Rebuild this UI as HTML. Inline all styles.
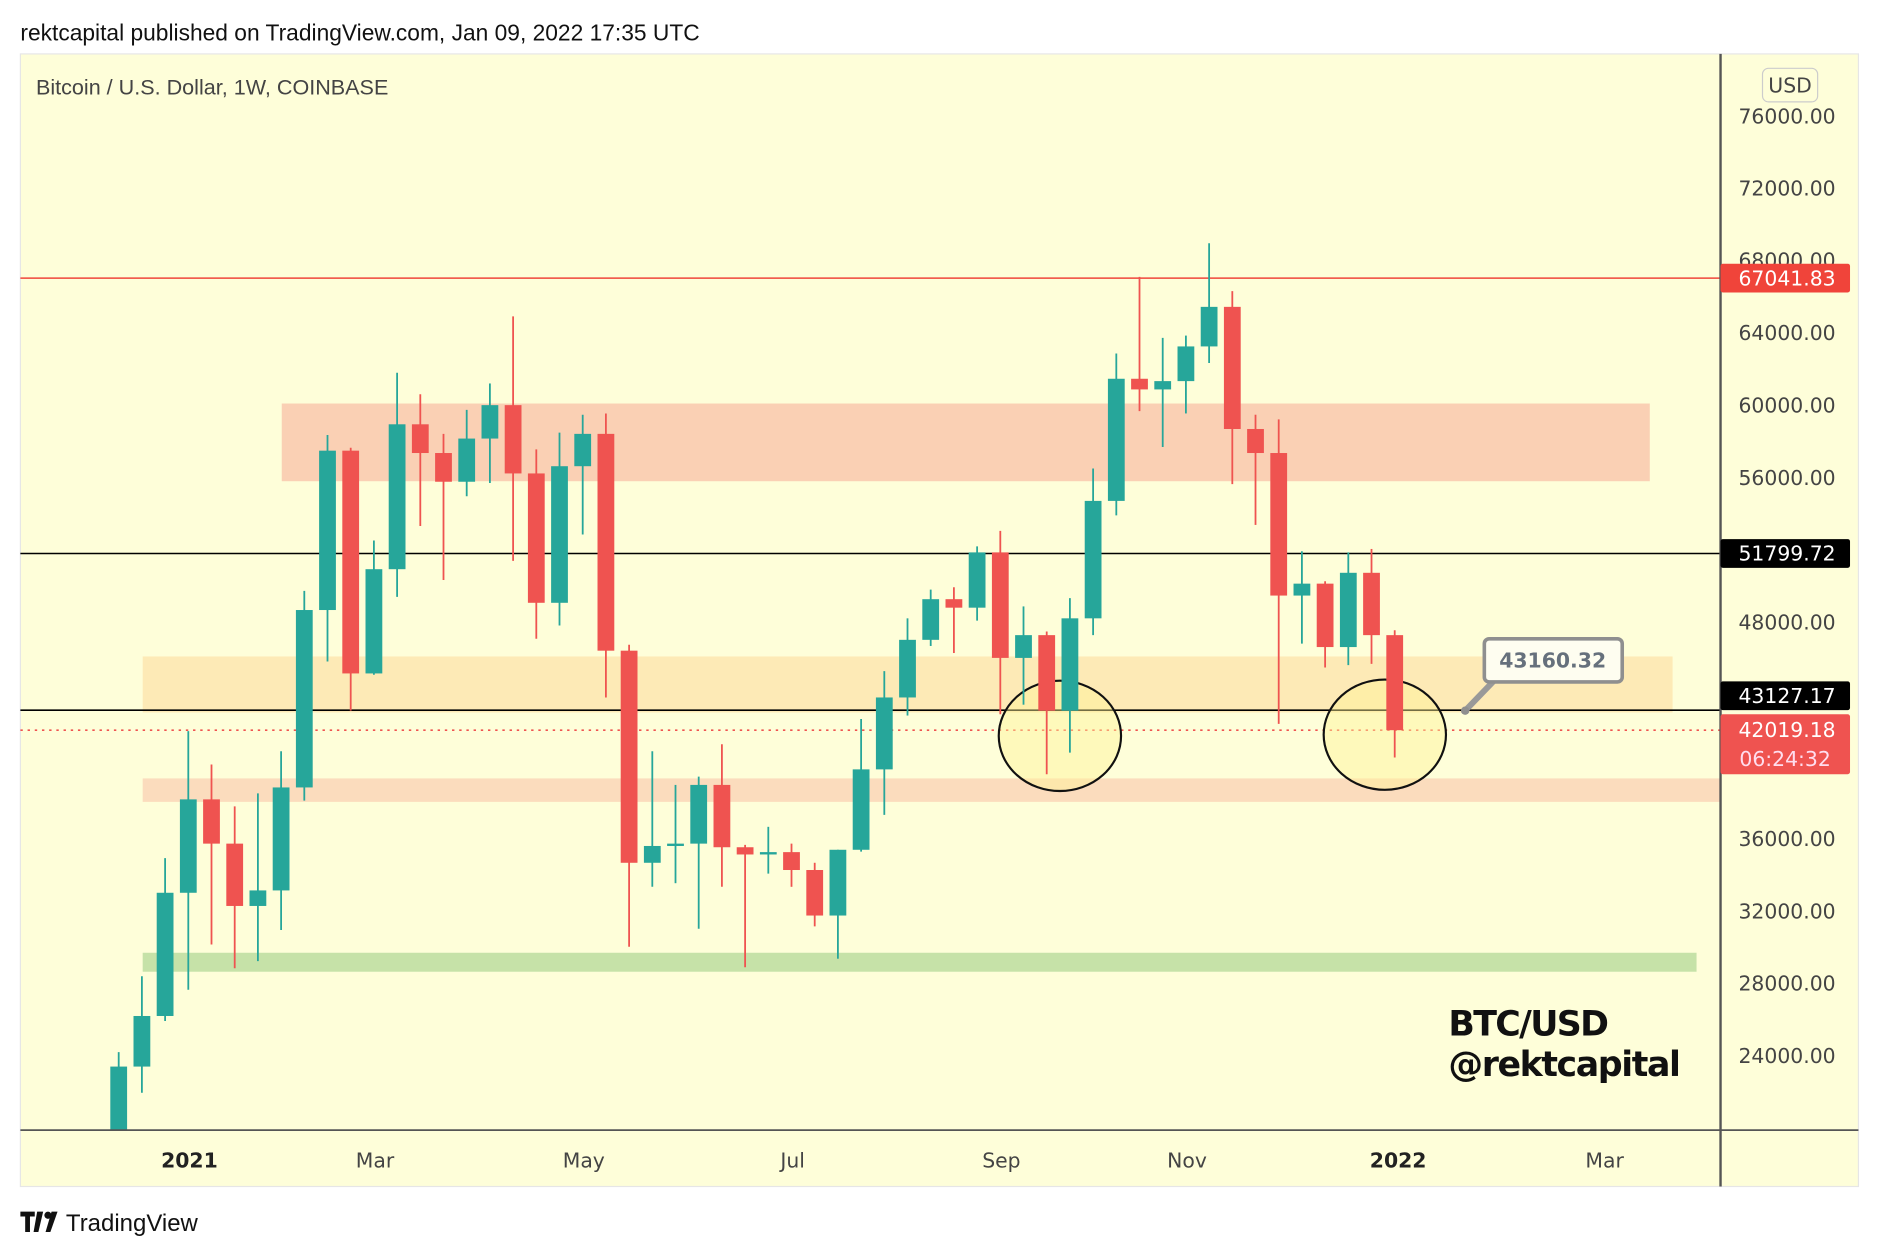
<!DOCTYPE html>
<html><head><meta charset="utf-8"><style>
html,body{margin:0;padding:0;background:#fff;}
svg{display:block;font-family:"DejaVu Sans","Liberation Sans",sans-serif;}
</style></head><body>
<svg id="chart" width="1880" height="1256" viewBox="0 0 1568 1048" preserveAspectRatio="none" xmlns="http://www.w3.org/2000/svg">
<text x="17" y="34" font-family="Liberation Sans, sans-serif" font-size="19" fill="#111">rektcapital published on TradingView.com, Jan 09, 2022 17:35 UTC</text>
<rect x="17" y="45" width="1533" height="945" fill="#fefed9" stroke="#e6e6e6"/>
<g id="zones"></g>
<g id="lines"></g>
<g id="annot"></g>
<g id="candles"></g>
<g id="callout"></g>
<line x1="17" y1="943" x2="1550" y2="943" stroke="#555" stroke-width="1.5"/>
<line x1="1435" y1="45" x2="1435" y2="990" stroke="#555" stroke-width="2"/>
<text x="30" y="79" font-size="18" fill="#444" font-family="Liberation Sans, sans-serif">Bitcoin / U.S. Dollar, 1W, COINBASE</text>
<rect x="1470" y="57" width="46" height="28" rx="5" fill="#fefed9" stroke="#ccc"/>
<text x="1493" y="77" font-size="17" fill="#444" text-anchor="middle">USD</text>
<g id="yaxis"></g>
<g id="xaxis"></g>
<text x="1208" y="864" font-size="29" font-weight="bold" fill="#111" textLength="134">BTC/USD</text>
<text x="1208" y="898" font-size="29" font-weight="bold" fill="#111" textLength="194">@rektcapital</text>
<g>
<path d="M17 1011h12v4h-4v13h-4v-13h-4z M31 1011h5l-4 17h-4z" fill="#111"/>
<circle cx="40" cy="1014" r="3" fill="#111"/>
<path d="M43 1011h5l-6 17h-4z" fill="#111"/>
<text x="55" y="1027" font-size="20" fill="#111" font-family="Liberation Sans, sans-serif">TradingView</text>
</g>
</svg>
<script>
const opens=[18000,23400,26200,33020,38190,35740,32290,33150,38850,48670,57490,45160,50930,58950,57360,55770,58160,60010,56230,49070,56630,58420,46420,34680,35610,35740,38990,35540,35140,35270,34280,31760,35400,39850,43830,47020,49270,48800,51860,46020,47280,43100,48210,54710,61470,60880,61340,63260,65450,58690,57360,49470,50130,46620,50730,47280];
const highs=[24200,28400,34940,41970,40120,37800,38520,40850,49730,58360,57650,52520,61800,60610,58420,59750,61210,64920,57560,58490,59480,59550,46750,40850,38990,39450,41240,35670,36670,35740,34680,35400,42640,45290,48210,49800,49930,52190,53050,48870,47480,49330,56500,62870,67110,63730,63860,68970,66320,59480,59220,51920,50260,51860,52050,47550];
const lows=[17600,21950,25920,27650,30160,28840,29240,30960,38120,45820,43100,45090,49400,53320,50330,54970,55700,51390,47080,47810,52850,43830,30030,33350,33550,31030,33350,28900,34080,33350,31160,29370,35300,37330,42830,46680,46290,48080,42900,43430,39580,40780,47280,53910,59680,57690,59550,62340,55640,53380,42370,46810,45490,45620,45690,40510];
const closes=[23400,26200,33020,38190,35740,32290,33150,38850,48670,57490,45160,50930,58950,57360,55770,58160,60010,56230,49070,56630,58420,46420,34680,35610,35740,38990,35540,35140,35270,34280,31760,35400,39850,43830,47020,49270,48800,51860,46020,47280,43100,48210,54710,61470,60880,61340,63260,65450,58690,57360,49470,50130,46620,50730,47280,42019];
const yTicks=[76000,72000,64000,60000,56000,48000,36000,32000,28000,24000];
const xLabels=["2021","Mar","May","Jul","Sep","Nov","2022","Mar"];
const xLabelWeeks=[3.1,11.1,20.1,29.1,38.1,46.1,55.2,64.1];
const levels=[67041.83,51799.72,43127.17];
const lastPrice=42019.18;
const NS="http://www.w3.org/2000/svg";
function y(p){return 97+(76000-p)*60.3/4000;}
function x(i){return 99+i*19.35;}
function mk(tag,attrs,parent,txt){const e=document.createElementNS(NS,tag);for(const k in attrs)e.setAttribute(k,attrs[k]);if(txt!==undefined)e.textContent=txt;document.getElementById(parent).appendChild(e);return e;}
let z;
z=mk('rect',{x:235,y:y(60100),width:1141,height:y(55800)-y(60100),fill:'#fad0b4'},'zones');


z=mk('rect',{x:119,y:y(46100),width:1276,height:y(43000)-y(46100),fill:'#fdeab6'},'zones');


z=mk('rect',{x:119,y:y(39350),width:1316,height:y(38050)-y(39350),fill:'#fbdcbd'},'zones');


z=mk('rect',{x:119,y:y(29700),width:1296,height:y(28650)-y(29700),fill:'#c6e2a8'},'zones');


const lc=['#f0443a','#000','#000'];
levels.forEach((v,i)=>{const l=mk('line',{x1:17,x2:1435,y1:y(v),y2:y(v),stroke:lc[i],'stroke-width':1.3},'lines');

});
const dl=mk('line',{x1:17,x2:1435,y1:y(lastPrice),y2:y(lastPrice),stroke:'#ef5350','stroke-width':1.3,'stroke-dasharray':'2 4'},'lines');


[[884,614],[1155,613]].forEach(c=>{const e=mk('ellipse',{cx:c[0],cy:c[1],rx:51,ry:46,fill:'rgba(255,245,150,0.45)',stroke:'#111','stroke-width':1.8},'annot');

});
opens.forEach((o,i)=>{const c=closes[i];const up=c>=o;const col=up?'#26a69a':'#ef5350';const cx=x(i);
const g=mk('g',{},'candles');


const w=document.createElementNS(NS,'line');w.setAttribute('x1',cx);w.setAttribute('x2',cx);w.setAttribute('y1',Math.min(y(highs[i]),943));w.setAttribute('y2',Math.min(y(lows[i]),943));w.setAttribute('stroke',col);w.setAttribute('stroke-width',1.5);g.appendChild(w);
const t=Math.min(y(o),y(c)),b=Math.min(Math.max(y(o),y(c)),943);
const r=document.createElementNS(NS,'rect');r.setAttribute('x',cx-7);r.setAttribute('width',14);r.setAttribute('y',t);r.setAttribute('height',Math.max(b-t,1.5));r.setAttribute('fill',col);g.appendChild(r);});
const cg=mk('g',{},'callout');


cg.innerHTML='<path d="M1222 593 L1248 566" stroke="#999" stroke-width="5"/><rect x="1238" y="533" width="115" height="36" rx="4" fill="#fefdf0" stroke="#8f8f8f" stroke-width="3"/><circle cx="1222" cy="593" r="3.5" fill="#8f8f8f"/><text x="1295" y="557" font-size="17" font-weight="bold" fill="#66707c" text-anchor="middle">43160.32</text>';
yTicks.forEach(v=>{const t=mk('text',{x:1531,y:y(v)+6,'font-size':17,fill:'#444','text-anchor':'end'},'yaxis',v.toFixed(2));

});
mk('text',{x:1531,y:223,'font-size':17,fill:'#444','text-anchor':'end'},'yaxis','68000.00');
const bc=['#f0443a','#000','#000'];
const boff=[-12,-12,-24];
levels.forEach((v,i)=>{const g=mk('g',{},'yaxis');


const top=y(v)+boff[i];
g.innerHTML='<rect x="1435" y="'+top+'" width="108" height="24" rx="2" fill="'+bc[i]+'"/><text x="1531" y="'+(top+18)+'" font-size="17" fill="#fff" text-anchor="end">'+v.toFixed(2)+'</text>';});
const lp=mk('g',{},'yaxis');


lp.innerHTML='<rect x="1435" y="596" width="108" height="50" rx="2" fill="#ef5350"/><text x="1531" y="615" font-size="17" fill="#fff" text-anchor="end">'+lastPrice.toFixed(2)+'</text><text x="1527" y="639" font-size="17" fill="#fde" text-anchor="end">06:24:32</text>';
xLabels.forEach((s,i)=>{const t=mk('text',{x:x(xLabelWeeks[i])-1,y:974,'font-size':17,fill:(s.length===4?'#222':'#444'),'font-weight':(s.length===4?'bold':'normal'),'text-anchor':'middle'},'xaxis',s);

});
</script>
</body></html>
